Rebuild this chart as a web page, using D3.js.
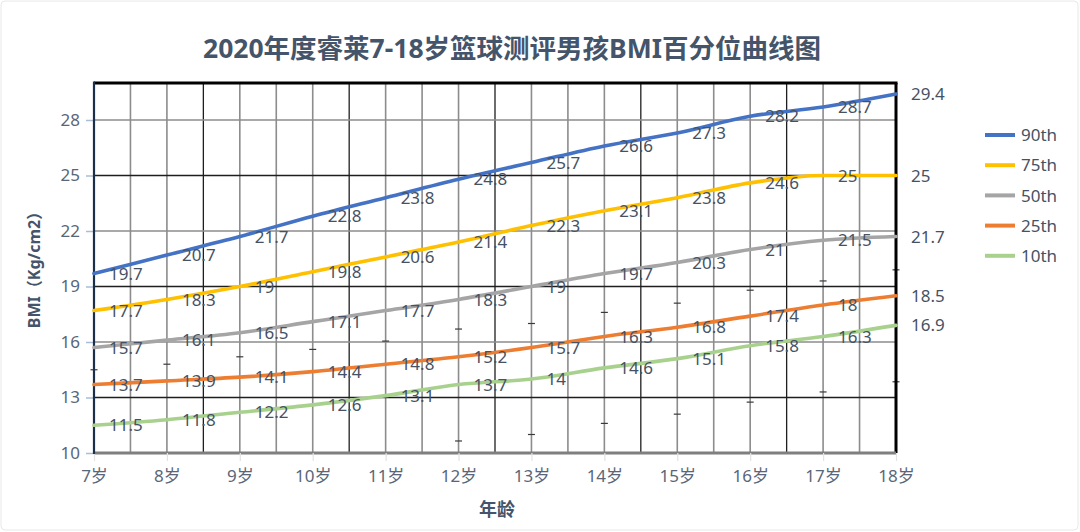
<!DOCTYPE html>
<html>
<head>
<meta charset="utf-8">
<script src="https://cdn.jsdelivr.net/npm/d3@7/dist/d3.min.js"></script>
<style>
  body { margin: 0; background: #fff; }
  svg text { font-family: "Noto Sans", "Noto Sans CJK SC", sans-serif; }
</style>
</head>
<body>
<svg id="chart" width="1080" height="532"></svg>
<script>
// data
var ages = [7, 8, 9, 10, 11, 12, 13, 14, 15, 16, 17, 18];
var ageLabels = ["7岁", "8岁", "9岁", "10岁", "11岁", "12岁", "13岁", "14岁", "15岁", "16岁", "17岁", "18岁"];
var yTicks = [10, 13, 16, 19, 22, 25, 28];
var seriesNames = ["90th", "75th", "50th", "25th", "10th"];
var p90 = [19.7, 20.7, 21.7, 22.8, 23.8, 24.8, 25.7, 26.6, 27.3, 28.2, 28.7, 29.4];
var p75 = [17.7, 18.3, 19, 19.8, 20.6, 21.4, 22.3, 23.1, 23.8, 24.6, 25, 25];
var p50 = [15.7, 16.1, 16.5, 17.1, 17.7, 18.3, 19, 19.7, 20.3, 21, 21.5, 21.7];
var p25 = [13.7, 13.9, 14.1, 14.4, 14.8, 15.2, 15.7, 16.3, 16.8, 17.4, 18, 18.5];
var p10 = [11.5, 11.8, 12.2, 12.6, 13.1, 13.7, 14, 14.6, 15.1, 15.8, 16.3, 16.9];
// small dash markers left over in the plot
var markUpper = [14.5, 14.8, 15.2, 15.6, 16.05, 16.7, 17.0, 17.6, 18.1, 18.8, 19.3, 19.9];
var markLower = [null, null, null, null, 10.0, 10.65, 11.0, 11.6, 12.1, 12.75, 13.3, 13.85];

var colors = ["#4472c4", "#ffc000", "#a5a5a5", "#ed7d31", "#a9d18e"];
var seriesValues = [p90, p75, p50, p25, p10];

const svg = d3.select("#chart");
const width = 1080, height = 532;

svg.append("rect")
    .attr("x", 1).attr("y", 1)
    .attr("width", width - 3).attr("height", height - 3)
    .attr("rx", 4)
    .attr("fill", "#fff")
    .attr("stroke", "#e8e8e8");

var x = d3.scaleLinear().domain([7, 18]).range([94, 896]);
var y = d3.scaleLinear().domain([10, 30]).range([453, 83]);

// grid
var grid = svg.append("g").attr("class", "grid");
var darkX = d3.range(8.5, 18, 2);
d3.range(7.5, 18, 0.5).forEach(function(v) {
    var dark = darkX.some(function(d) { return Math.abs(d - v) < 1e-6; });
    grid.append("line")
        .attr("x1", x(v)).attr("x2", x(v))
        .attr("y1", y(30)).attr("y2", y(10))
        .attr("stroke", dark ? "#1e1e1e" : "#8c8c8c")
        .attr("stroke-width", dark ? 1.3 : 1.6);
});
yTicks.slice(1).forEach(function(v, i) {
    var dark = i % 2 == 0;
    grid.append("line")
        .attr("x1", x(7)).attr("x2", x(18))
        .attr("y1", y(v)).attr("y2", y(v))
        .attr("stroke", dark ? "#1e1e1e" : "#8c8c8c")
        .attr("stroke-width", dark ? 1.3 : 1.6);
});

// dash markers
var marks = svg.append("g").attr("class", "marks");
[markUpper, markLower].forEach(function(arr) {
    arr.forEach(function(v, i) {
        if (v == null) return;
        marks.append("line")
            .attr("x1", x(ages[i]) - 3.5).attr("x2", x(ages[i]) + 3.5)
            .attr("y1", y(v)).attr("y2", y(v))
            .attr("stroke", "#3a3a3a")
            .attr("stroke-width", 1.2);
    });
});

// frame
svg.append("line")
    .attr("x1", x(7)).attr("x2", x(18) + 1.5)
    .attr("y1", y(30)).attr("y2", y(30))
    .attr("stroke", "#000").attr("stroke-width", 3);
svg.append("line")
    .attr("x1", x(18)).attr("x2", x(18))
    .attr("y1", y(30)).attr("y2", y(10))
    .attr("stroke", "#000").attr("stroke-width", 3);
svg.append("line")
    .attr("x1", x(7)).attr("x2", x(18))
    .attr("y1", y(10)).attr("y2", y(10))
    .attr("stroke", "#7f7f7f").attr("stroke-width", 3);

// axes
var yAxis = svg.append("g")
    .attr("transform", "translate(" + x(7) + ",0)")
    .call(d3.axisLeft(y).tickValues(yTicks).tickSize(8).tickPadding(6));
yAxis.select(".domain").remove();
yAxis.selectAll(".tick line").attr("stroke", "#a9bdd6").attr("stroke-width", 1.5);
yAxis.selectAll(".tick text")
    .attr("fill", "#596679")
    .style("font-size", "17px");

var xAxis = svg.append("g")
    .attr("transform", "translate(0," + y(10) + ")")
    .call(d3.axisBottom(x).tickValues(ages).tickSize(8).tickPadding(9)
        .tickFormat(function(d, i) { return ageLabels[i]; }));
xAxis.select(".domain").remove();
xAxis.selectAll(".tick line").attr("stroke", "#e3e3e3").attr("stroke-width", 1.2);
xAxis.selectAll(".tick text")
    .attr("fill", "#596679")
    .style("font-size", "17px");

svg.append("line")
    .attr("x1", x(7)).attr("x2", x(7))
    .attr("y1", y(30) - 1.5).attr("y2", y(10) + 1)
    .attr("stroke", "#1c2f4a").attr("stroke-width", 2.2);

// lines
var line = d3.line()
    .x(function(d, i) { return x(ages[i]); })
    .y(function(d) { return y(d); })
    .curve(d3.curveMonotoneX);

seriesValues.slice().reverse().forEach(function(vals, j) {
    var k = seriesValues.length - 1 - j;
    svg.append("path")
        .attr("d", line(vals))
        .attr("fill", "none")
        .attr("stroke", colors[k])
        .attr("stroke-width", 3.6)
        .attr("stroke-linecap", "round");
});

// data labels
seriesValues.forEach(function(vals) {
    svg.append("g")
        .selectAll("text")
        .data(vals)
        .enter()
        .append("text")
        .attr("x", function(d, i) { return x(ages[i]) + 15; })
        .attr("y", function(d) { return y(d); })
        .attr("dy", "0.36em")
        .attr("fill", "#465264")
        .style("font-size", "17px")
        .text(function(d) { return d; });
});

// title
svg.append("text")
    .attr("x", 512).attr("y", 58)
    .attr("text-anchor", "middle")
    .attr("fill", "#44546a")
    .style("font-size", "26.5px")
    .style("font-weight", "bold")
    .text("2020年度睿莱7-18岁篮球测评男孩BMI百分位曲线图");

svg.append("text")
    .attr("transform", "translate(40,266) rotate(-90)")
    .attr("text-anchor", "middle")
    .attr("fill", "#44546a")
    .style("font-size", "16px")
    .style("font-weight", "bold")
    .text("BMI（Kg/cm2）");

svg.append("text")
    .attr("x", 497).attr("y", 516)
    .attr("text-anchor", "middle")
    .attr("fill", "#44546a")
    .style("font-size", "18px")
    .style("font-weight", "bold")
    .text("年龄");

// legend
var legend = svg.append("g")
    .selectAll("g")
    .data(seriesNames)
    .enter()
    .append("g")
    .attr("transform", function(d, i) { return "translate(985," + (135 + i * 30.2) + ")"; });
legend.append("line")
    .attr("x1", 0).attr("x2", 30)
    .attr("stroke", function(d, i) { return colors[i]; })
    .attr("stroke-width", 4);
legend.append("text")
    .attr("x", 36).attr("dy", "0.36em")
    .attr("fill", "#465264")
    .style("font-size", "17px")
    .text(function(d) { return d; });
</script>
</body>
</html>
